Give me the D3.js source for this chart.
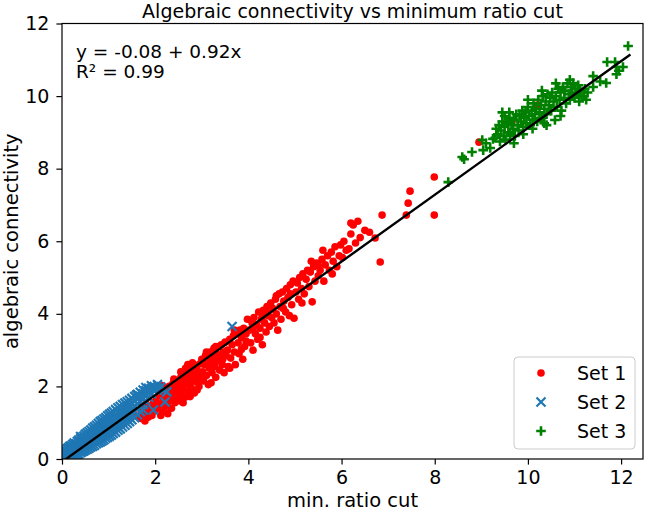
<!DOCTYPE html>
<html>
<head>
<meta charset="utf-8">
<script src="https://cdn.jsdelivr.net/npm/d3@7"></script>
<style>
  body { margin: 0; background: #fff; }
  text { font-family: "DejaVu Sans", sans-serif; fill: #000; }
</style>
</head>
<body>
<svg id="chart" width="646" height="511"></svg>
<script>
// Set 1 (red dots)
const set1 = [
  [1.62,1.18],[1.68,1.12],[1.7,1.3],[1.75,1.22],[1.78,1.05],[1.82,1.35],[1.85,1.15],[1.88,1.28],[1.9,1.45],[1.93,1.2],
  [1.96,1.55],[1.98,1.32],[1.72,1.45],[1.8,1.52],
  [2.02,1.62],[2.05,1.4],[2.08,1.75],[2.1,1.5],[2.12,1.85],[2.15,1.3],[2.18,1.65],[2.2,1.95],[2.22,1.45],[2.25,1.75],
  [2.28,1.58],[2.3,2.0],[2.32,1.85],[2.35,1.4],[2.36,1.68],[2.38,2.08],[2.4,1.78],[2.42,1.55],[2.44,1.95],[2.46,2.15],
  [2.48,1.7],[2.5,1.88],[2.05,1.9],[2.15,2.02],[2.27,1.25],[2.4,2.2],[2.12,1.2],
  [2.52,2.1],[2.54,1.6],[2.55,2.25],[2.57,1.8],[2.58,1.95],[2.6,2.35],[2.62,2.05],[2.64,1.7],[2.66,2.18],[2.68,2.42],
  [2.7,1.88],[2.72,2.28],[2.74,2.05],[2.76,2.5],[2.78,1.95],[2.8,2.2],[2.82,2.38],[2.84,1.82],[2.86,2.58],[2.88,2.12],
  [2.9,2.45],[2.92,2.3],[2.94,2.0],[2.96,2.62],[2.98,2.22],[2.6,1.55],[2.7,2.6],[2.8,2.65],[2.9,1.9],[2.55,2.4],
  [2.65,2.5],[2.75,1.72],
  [3.0,2.75],[3.02,2.4],[3.04,2.15],[3.06,2.6],[3.08,2.85],[3.1,2.3],[3.12,2.7],[3.14,2.05],[3.16,2.5],[3.18,2.95],
  [3.2,2.62],[3.22,2.38],[3.24,2.8],[3.26,3.05],[3.28,2.55],[3.3,2.25],[3.32,2.9],[3.34,2.7],[3.36,3.1],[3.38,2.45],
  [3.4,2.85],[3.42,3.15],[3.44,2.6],[3.46,2.95],[3.48,2.38],[3.5,3.22],[3.1,2.95],[3.2,2.1],[3.3,3.1],[3.45,2.75],
  [3.52,2.85],[3.55,3.0],[3.57,2.55],[3.6,3.3],[3.62,2.78],[3.65,3.15],[3.68,3.4],[3.7,2.95],[3.72,2.6],[3.75,3.5],
  [3.78,3.2],[3.8,2.9],[3.82,3.55],[3.85,3.35],[3.88,2.75],[3.9,3.6],[3.92,3.1],[3.95,3.45],[3.98,3.85],[3.6,2.5],
  [3.7,3.55],[3.85,3.02],[3.95,3.25],
  [4.02,3.55],[4.05,3.2],[4.08,3.75],[4.1,3.0],[4.12,3.9],[4.15,3.45],[4.18,3.7],[4.2,3.3],[4.22,4.05],[4.25,3.6],
  [4.28,3.85],[4.3,3.15],[4.32,4.1],[4.35,3.75],[4.38,3.5],[4.4,4.2],[4.42,3.95],[4.45,3.65],[4.48,4.3],[4.5,3.9],
  [4.1,3.6],[4.3,3.95],[4.45,4.1],[4.25,3.35],
  [4.52,4.15],[4.55,3.75],[4.58,4.4],[4.6,4.0],[4.63,3.55],[4.66,4.55],[4.68,4.2],[4.7,3.85],[4.73,4.6],[4.76,4.35],
  [4.8,4.05],[4.82,4.7],[4.85,4.45],[4.88,3.95],[4.9,4.8],[4.93,4.25],[4.96,4.9],[4.98,3.88],[4.6,4.5],[4.75,4.15],
  [4.9,4.55],
  [5.02,4.6],[5.05,4.85],[5.08,4.4],[5.1,5.0],[5.14,4.7],[5.17,5.1],[5.2,4.55],[5.24,4.95],[5.27,5.2],[5.3,4.75],
  [5.33,5.15],[5.37,4.33],[5.4,5.3],[5.43,4.9],[5.46,5.4],[5.5,5.05],[5.5,5.34],[5.35,5.45],[5.15,4.3],
  [5.54,5.2],[5.58,5.5],[5.62,4.9],[5.65,5.35],[5.7,5.6],[5.74,5.2],[5.78,5.7],[5.82,5.45],[5.86,5.85],[5.9,5.3],
  [5.95,5.6],[5.98,5.9],[5.6,5.75],[5.8,5.1],
  [6.02,5.55],[6.05,6.0],[6.1,5.75],[6.16,5.79],[6.2,6.2],[6.25,6.45],[6.3,5.95],[6.35,6.55],[6.4,6.1],[6.5,6.3],
  [6.72,6.09],[6.87,6.72],[6.83,5.43],[6.6,6.25],[6.2,6.5],[7.39,6.72],[7.43,7.05],[7.47,7.38],[7.99,7.77],[7.99,6.72],
  [8.95,8.73],[9.66,9.31],[10.2,9.75]
];

// Set 2 (blue crosses)
const set2 = [
  [0.02,0.03],[0.02,0.12],[0.02,0.2],[0.05,0.02],[0.05,0.08],[0.05,0.18],[0.05,0.25],[0.08,0.05],[0.08,0.14],[0.08,0.22],
  [0.11,0.03],[0.11,0.1],[0.11,0.19],[0.11,0.28],[0.14,0.06],[0.14,0.15],[0.14,0.24],[0.14,0.31],
  [0.17,0.04],[0.17,0.12],[0.17,0.2],[0.17,0.29],[0.17,0.35],[0.2,0.08],[0.2,0.17],[0.2,0.26],[0.2,0.36],
  [0.23,0.06],[0.23,0.14],[0.23,0.22],[0.23,0.31],[0.23,0.4],[0.26,0.1],[0.26,0.19],[0.26,0.28],[0.26,0.37],[0.26,0.44],
  [0.3,0.08],[0.3,0.16],[0.3,0.25],[0.3,0.34],[0.3,0.42],[0.33,0.12],[0.33,0.21],[0.33,0.3],[0.33,0.39],[0.33,0.48],
  [0.36,0.14],[0.36,0.24],[0.36,0.33],[0.36,0.43],[0.36,0.52],[0.4,0.18],[0.4,0.27],[0.4,0.36],[0.4,0.46],[0.4,0.56],[0.4,0.62],
  [0.43,0.2],[0.43,0.3],[0.43,0.4],[0.43,0.5],[0.43,0.59],[0.47,0.22],[0.47,0.33],[0.47,0.43],[0.47,0.54],[0.47,0.63],
  [0.5,0.25],[0.5,0.36],[0.5,0.47],[0.5,0.57],[0.5,0.68],[0.54,0.27],[0.54,0.38],[0.54,0.5],[0.54,0.61],[0.54,0.72],
  [0.58,0.3],[0.58,0.42],[0.58,0.53],[0.58,0.65],[0.58,0.76],[0.62,0.33],[0.62,0.45],[0.62,0.57],[0.62,0.69],[0.62,0.8],
  [0.66,0.35],[0.66,0.48],[0.66,0.61],[0.66,0.73],[0.66,0.85],[0.7,0.38],[0.7,0.51],[0.7,0.64],[0.7,0.77],[0.7,0.89],
  [0.74,0.42],[0.74,0.55],[0.74,0.68],[0.74,0.81],[0.74,0.93],[0.78,0.45],[0.78,0.58],[0.78,0.72],[0.78,0.85],[0.78,0.98],
  [0.82,0.47],[0.82,0.61],[0.82,0.75],[0.82,0.89],[0.82,1.03],[0.86,0.5],[0.86,0.65],[0.86,0.79],[0.86,0.93],[0.86,1.06],
  [0.9,0.53],[0.9,0.68],[0.9,0.83],[0.9,0.97],[0.9,1.1],[0.94,0.57],[0.94,0.72],[0.94,0.87],[0.94,1.01],[0.94,1.14],
  [0.98,0.6],[0.98,0.75],[0.98,0.9],[0.98,1.05],[0.98,1.19],[1.02,0.63],[1.02,0.79],[1.02,0.94],[1.02,1.09],[1.02,1.23],
  [1.06,0.66],[1.06,0.82],[1.06,0.98],[1.06,1.13],[1.06,1.27],[1.1,0.7],[1.1,0.86],[1.1,1.01],[1.1,1.17],[1.1,1.31],
  [1.15,0.74],[1.15,0.9],[1.15,1.06],[1.15,1.22],[1.15,1.36],[1.2,0.79],[1.2,0.95],[1.2,1.11],[1.2,1.27],[1.2,1.41],
  [1.25,0.83],[1.25,0.99],[1.25,1.15],[1.25,1.31],[1.25,1.45],[1.3,0.88],[1.3,1.04],[1.3,1.2],[1.3,1.35],[1.3,1.5],
  [1.35,0.93],[1.35,1.09],[1.35,1.24],[1.35,1.4],[1.35,1.54],[1.4,0.98],[1.4,1.14],[1.4,1.29],[1.4,1.44],[1.4,1.58],
  [1.45,1.03],[1.45,1.18],[1.45,1.33],[1.45,1.48],[1.45,1.62],[1.5,1.08],[1.5,1.23],[1.5,1.38],[1.5,1.53],[1.5,1.67],
  [1.56,1.14],[1.56,1.3],[1.56,1.45],[1.56,1.6],[1.56,1.72],[1.62,1.22],[1.62,1.38],[1.62,1.52],[1.62,1.66],[1.62,1.78],
  [1.68,1.3],[1.68,1.45],[1.68,1.6],[1.68,1.73],[1.68,1.84],[1.74,1.5],[1.74,1.65],[1.74,1.8],[1.74,1.9],
  [1.8,1.6],[1.8,1.75],[1.8,1.88],[1.8,1.97],[1.86,1.7],[1.86,1.85],[1.86,1.95],[1.92,1.8],[1.92,1.94],[1.92,2.02],
  [1.98,1.9],[1.98,2.0],[2.05,1.95],[2.05,2.05],[2.12,1.98],[2.2,1.9],[2.25,1.85],
  [1.74,1.35],[1.96,1.35],[2.21,1.57],[2.03,1.95],[1.6,1.76],[3.65,3.65]
];

// Set 3 (green pluses)
const set3 = [
  [8.29,7.63],[8.59,8.32],[8.63,8.26],[8.8,8.46],[9.02,8.79],[9.04,8.51],[9.25,8.82],[9.19,8.57],[9.1,8.7],
  [9.3,8.85],[9.32,9.1],[9.35,8.95],[9.38,9.2],[9.4,8.75],[9.42,9.05],[9.45,9.3],[9.48,8.9],[9.5,9.15],[9.52,8.8],
  [9.55,9.25],[9.58,9.0],[9.6,9.4],[9.62,8.95],[9.65,9.2],[9.68,9.1],[9.7,9.35],[9.72,8.9],[9.75,9.5],[9.78,9.2],
  [9.8,9.05],[9.82,9.45],[9.85,9.3],[9.88,9.6],[9.9,9.15],[9.92,9.4],[9.95,9.55],[9.97,9.25],[10.0,9.7],[10.02,9.45],
  [10.05,9.2],[10.08,9.6],[10.1,9.35],[10.12,9.8],[10.15,9.5],[10.18,9.65],[10.2,9.3],[10.22,9.9],[10.25,9.55],
  [10.28,9.75],[10.3,9.4],[10.32,10.0],[10.35,9.65],[10.38,9.85],[10.4,9.5],[10.42,10.05],[10.45,9.75],[10.48,9.95],
  [10.5,9.6],[10.52,10.1],[10.55,9.85],[10.58,9.34],[10.6,10.0],[10.62,9.7],[10.65,10.2],[10.68,9.9],[10.7,10.1],
  [10.72,9.6],[10.75,10.25],[10.78,9.95],[10.8,10.15],[10.82,9.8],[10.85,10.35],[10.88,10.05],[10.9,9.9],[10.92,10.25],
  [10.95,10.1],[10.97,10.36],[11.0,9.95],[11.02,10.2],[11.05,10.05],[11.08,10.3],[11.1,9.85],[11.12,10.15],[11.15,10.0],
  [11.2,10.0],[11.22,10.2],[11.25,9.9],[11.28,10.1],[9.6,9.55],[9.9,8.95],[10.1,9.1],[10.4,9.2],[10.7,9.45],[9.5,9.45],
  [9.7,8.7],[10.0,9.9],[10.3,10.15],[10.6,10.35],[10.9,10.45],[9.45,9.55],[10.35,9.25],
  [11.4,10.55],[11.4,10.25],[11.55,10.4],[11.68,10.36],[11.7,10.94],[11.87,10.94],[11.9,10.6],[11.9,10.8],[11.95,10.7],
  [12.04,10.8],[12.15,11.38]
];

const fitIntercept = -0.08;
const fitSlope = 0.92;
const fitRange = [0, 12.2];
const xTicks = [0, 2, 4, 6, 8, 10, 12];
const yTicks = [0, 2, 4, 6, 8, 10, 12];
const legendLabels = ["Set 1", "Set 2", "Set 3"];
const colors = { red: "#ff0000", blue: "#1f77b4", green: "#008000" };

const svg = d3.select("#chart");
const plot = { left: 62, right: 643, top: 23.5, bottom: 459 };

const x = d3.scaleLinear().domain([0, 12.47]).range([plot.left, plot.right]);
const y = d3.scaleLinear().domain([0, 12]).range([plot.bottom, plot.top]);

svg.append("clipPath").attr("id", "clip")
  .append("rect")
  .attr("x", plot.left).attr("y", plot.top)
  .attr("width", plot.right - plot.left).attr("height", plot.bottom - plot.top);

const body = svg.append("g").attr("clip-path", "url(#clip)");

// markers
const crossPath = "M-4.5,-4.5L4.5,4.5M-4.5,4.5L4.5,-4.5";
const plusPath = "M-4.8,0H4.8M0,-4.8V4.8";

body.append("g").selectAll("circle")
  .data(set1).enter().append("circle")
  .attr("cx", d => x(d[0])).attr("cy", d => y(d[1]))
  .attr("r", 3.8).attr("fill", colors.red);

body.append("g").selectAll("path")
  .data(set2).enter().append("path")
  .attr("d", crossPath)
  .attr("transform", d => `translate(${x(d[0])},${y(d[1])})`)
  .attr("stroke", colors.blue).attr("stroke-width", 2.2).attr("fill", "none");

body.append("g").selectAll("path")
  .data(set3).enter().append("path")
  .attr("d", plusPath)
  .attr("transform", d => `translate(${x(d[0])},${y(d[1])})`)
  .attr("stroke", colors.green).attr("stroke-width", 2.6).attr("fill", "none");

// regression line
const line = d3.line().x(d => x(d)).y(d => y(fitIntercept + fitSlope * d));
body.append("path")
  .datum(fitRange)
  .attr("d", line)
  .attr("stroke", "#000").attr("stroke-width", 2.4).attr("fill", "none");

// axes
const xAxis = d3.axisBottom(x).tickValues(xTicks).tickSize(5.6).tickPadding(6).tickFormat(d3.format("d"));
const yAxis = d3.axisLeft(y).tickValues(yTicks).tickSize(5.6).tickPadding(7).tickFormat(d3.format("d"));

const gx = svg.append("g").attr("transform", `translate(0,${plot.bottom})`).call(xAxis);
const gy = svg.append("g").attr("transform", `translate(${plot.left},0)`).call(yAxis);
[gx, gy].forEach(g => {
  g.select(".domain").remove();
  g.selectAll(".tick line").attr("stroke", "#000").attr("stroke-width", 1.2);
  g.selectAll(".tick text").attr("font-size", 19).attr("font-family", "DejaVu Sans").attr("fill", "#000");
});

svg.append("rect")
  .attr("x", plot.left).attr("y", plot.top)
  .attr("width", plot.right - plot.left).attr("height", plot.bottom - plot.top)
  .attr("fill", "none").attr("stroke", "#000").attr("stroke-width", 1.2);

// labels
svg.append("text")
  .attr("x", (plot.left + plot.right) / 2).attr("y", 17.5)
  .attr("text-anchor", "middle").attr("font-size", 19)
  .text("Algebraic connectivity vs minimum ratio cut");

svg.append("text")
  .attr("x", (plot.left + plot.right) / 2).attr("y", 507)
  .attr("text-anchor", "middle").attr("font-size", 19.5)
  .text("min. ratio cut");

svg.append("text")
  .attr("transform", `translate(18,${(plot.top + plot.bottom) / 2}) rotate(-90)`)
  .attr("text-anchor", "middle").attr("font-size", 19.5)
  .text("algebraic connectivity");

svg.append("text").attr("x", 76).attr("y", 58).attr("font-size", 18.5)
  .text(`y = ${fitIntercept.toFixed(2)} + ${fitSlope.toFixed(2)}x`);
svg.append("text").attr("x", 76).attr("y", 78).attr("font-size", 18.5)
  .text("R² = 0.99");

// legend
const legend = svg.append("g").attr("transform", "translate(514,357)");
legend.append("rect")
  .attr("width", 121).attr("height", 92).attr("rx", 4)
  .attr("fill", "#fff").attr("fill-opacity", 0.8)
  .attr("stroke", "#cccccc").attr("stroke-width", 1);

const rows = legend.selectAll("g.row").data(legendLabels).enter().append("g")
  .attr("transform", (d, i) => `translate(27,${16 + i * 29})`);
rows.filter((d, i) => i === 0).append("circle").attr("r", 3.8).attr("fill", colors.red);
rows.filter((d, i) => i === 1).append("path").attr("d", crossPath)
  .attr("stroke", colors.blue).attr("stroke-width", 2.2).attr("fill", "none");
rows.filter((d, i) => i === 2).append("path").attr("d", plusPath)
  .attr("stroke", colors.green).attr("stroke-width", 2.6).attr("fill", "none");
rows.append("text").attr("x", 36).attr("y", 7).attr("font-size", 19).text(d => d);
</script>
</body>
</html>
